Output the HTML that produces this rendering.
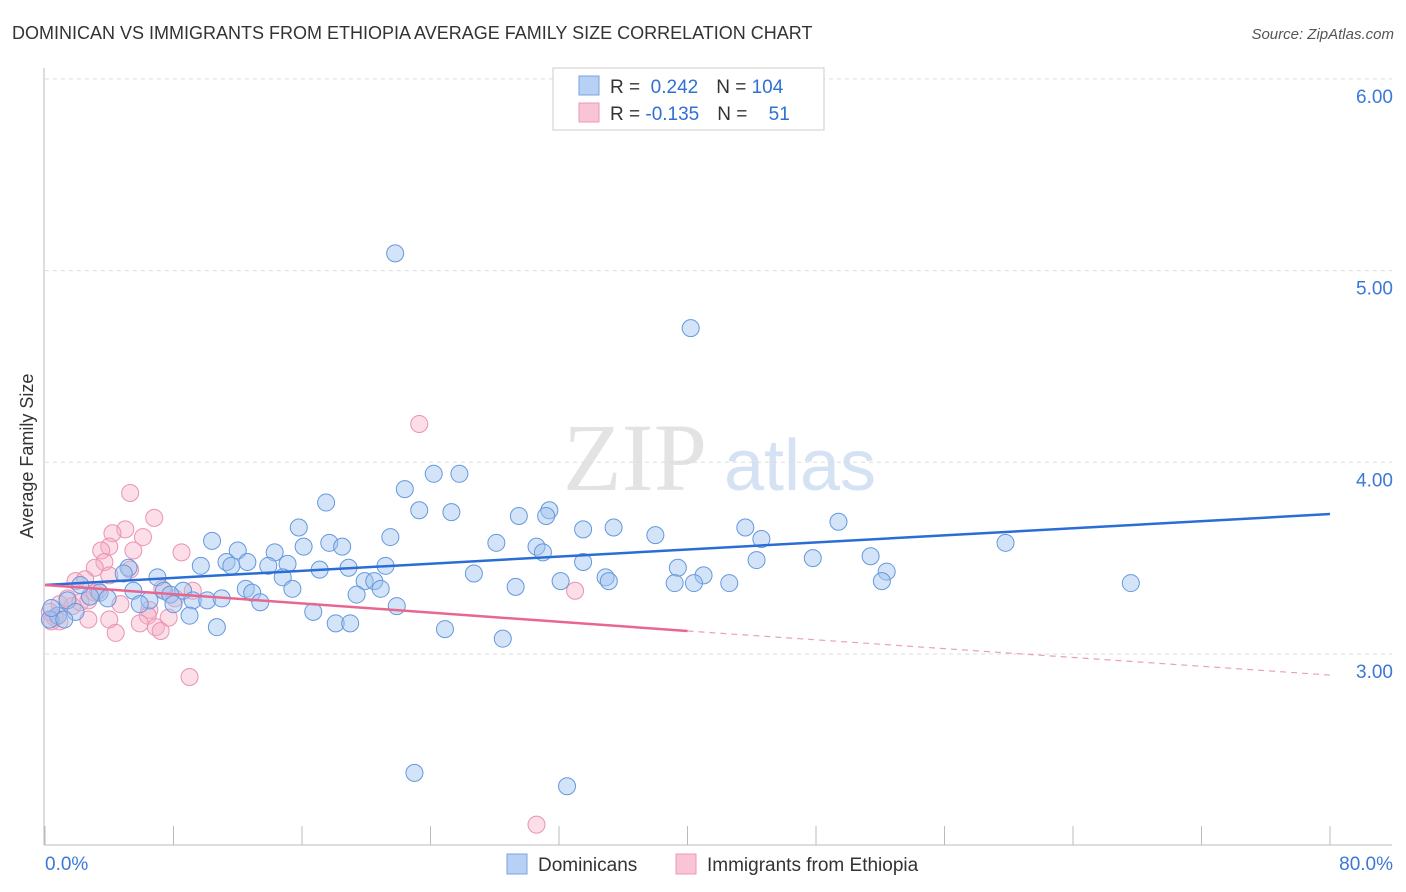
<!DOCTYPE html>
<html><head><meta charset="utf-8"><style>
body{margin:0;background:#fff;font-family:"Liberation Sans",sans-serif}
</style></head><body>
<svg width="1406" height="892" xmlns="http://www.w3.org/2000/svg" style="display:block">
<text x="12" y="39" font-size="18" fill="#333">DOMINICAN VS IMMIGRANTS FROM ETHIOPIA AVERAGE FAMILY SIZE CORRELATION CHART</text>
<text x="1394" y="39" font-size="15" fill="#555" font-style="italic" text-anchor="end">Source: ZipAtlas.com</text>
<g>
<text x="635" y="490" font-size="96" fill="#e3e3e3" font-family="Liberation Serif,serif" text-anchor="middle">ZIP</text>
<text x="800" y="490" font-size="72" fill="#d4e2f4" text-anchor="middle">atlas</text>
</g>
<g id="grid"></g>
<line x1="44" y1="68" x2="44" y2="845" stroke="#bbb"/>
<line x1="44" y1="845" x2="1392" y2="845" stroke="#bbb"/>
<g id="xt"></g>
<g id="yt"></g>
<text transform="translate(33,456) rotate(-90)" font-size="18" fill="#333" text-anchor="middle">Average Family Size</text>
<g id="pink"></g>
<g id="blue"></g>
<g id="lines"></g>
<g>
<rect x="553" y="68" width="271" height="62" fill="#fff" stroke="#ccc"/>
<rect x="579" y="76" width="20" height="19" fill="#b7d0f3" stroke="#7aa3e0"/>
<rect x="579" y="103" width="20" height="19" fill="#f9c4d4" stroke="#eb9ab5"/>
<text x="610" y="93" font-size="19" fill="#333">R = <tspan fill="#2f6fd6">&#160;0.242</tspan><tspan dx="18">N = </tspan><tspan fill="#2f6fd6">104</tspan></text>
<text x="610" y="120" font-size="19" fill="#333">R = <tspan fill="#2f6fd6">-0.135</tspan><tspan dx="18">N = </tspan><tspan fill="#2f6fd6" dx="16">51</tspan></text>
</g>
<g>
<rect x="507" y="854" width="20" height="20" fill="#b7d0f3" stroke="#7aa3e0"/>
<text x="538" y="871" font-size="19" fill="#333">Dominicans</text>
<rect x="676" y="854" width="20" height="20" fill="#f9c4d4" stroke="#eb9ab5"/>
<text x="707" y="871" font-size="19" fill="#333">Immigrants from Ethiopia</text>
</g>
</svg>
<script>
const blueX=[21.8,40.2,24.2,25.8,22.4,17.5,23.3,25.3,31.4,31.2,29.5,49.4,15.8,33.5,35.4,43.6,21.5,38.0,44.6,10.4,17.7,28.1,59.8,16.1,18.5,30.6,12.0,14.3,31.0,47.8,51.4,11.3,12.6,44.3,33.5,9.7,11.6,13.9,15.1,21.2,39.4,5.2,17.1,18.9,52.4,4.9,26.7,41.0,7.0,14.8,19.9,20.5,32.1,34.9,35.1,39.2,40.4,42.6,52.1,67.6,29.3,12.5,15.4,20.9,5.5,7.4,8.6,12.9,19.4,3.4,7.8,3.9,9.2,10.1,11.0,2.8,6.5,5.9,8.0,13.4,1.4,21.9,16.7,9.0,1.9,0.8,0.3,1.2,18.1,19.0,10.7,24.9,28.5,23.0,32.5,0.4,2.2];
const blueY=[5.09,4.70,3.94,3.94,3.86,3.79,3.75,3.74,3.75,3.72,3.72,3.69,3.66,3.65,3.66,3.66,3.61,3.62,3.60,3.59,3.58,3.58,3.58,3.56,3.56,3.56,3.54,3.53,3.53,3.50,3.51,3.48,3.48,3.49,3.48,3.46,3.46,3.46,3.47,3.46,3.45,3.45,3.44,3.45,3.43,3.42,3.42,3.41,3.40,3.40,3.38,3.38,3.38,3.40,3.38,3.37,3.37,3.37,3.38,3.37,3.35,3.34,3.34,3.34,3.33,3.33,3.33,3.32,3.31,3.32,3.31,3.29,3.28,3.28,3.29,3.30,3.28,3.26,3.26,3.27,3.28,3.25,3.22,3.20,3.22,3.20,3.18,3.18,3.16,3.16,3.14,3.13,3.08,2.38,2.31,3.24,3.36];
const pinkX=[23.3,5.3,6.8,5.0,4.2,6.1,4.0,3.5,5.5,8.5,3.7,5.3,3.1,1.9,2.5,4.0,9.2,7.3,33.0,4.7,2.7,3.1,1.7,6.5,0.9,7.7,6.4,4.0,2.7,0.6,0.9,5.9,6.9,7.2,4.4,9.0,30.6,0.3,1.4,3.3,8.1,2.2,0.4];
const pinkY=[4.20,3.84,3.71,3.65,3.63,3.61,3.56,3.54,3.54,3.53,3.48,3.44,3.45,3.38,3.39,3.41,3.33,3.34,3.33,3.26,3.28,3.32,3.25,3.23,3.26,3.19,3.20,3.18,3.18,3.19,3.17,3.16,3.14,3.12,3.11,2.88,2.11,3.22,3.29,3.33,3.29,3.27,3.17];
const blueTrendX=[0,80];const blueTrendY=[3.36,3.73];
const pinkTrendX=[0,40,80];const pinkTrendY=[3.36,3.12,2.89];
const yTicks=[3,4,5,6];const yTickLabels=["3.00","4.00","5.00","6.00"];
const xTickLabels=["0.0%","80.0%"];
const NS="http://www.w3.org/2000/svg";
const sx=v=>45+v*1285/80, sy=v=>654-(v-3)*191.7;
function mk(p,t,a){const e=document.createElementNS(NS,t);for(const k in a)e.setAttribute(k,a[k]);document.getElementById(p).appendChild(e);return e;}
yTicks.forEach((v,i)=>{
 const g=mk('grid','line',{x1:45,x2:1392,y1:sy(v),y2:sy(v),stroke:'#ddd','stroke-dasharray':'4,4'});
 
 
 const t=mk('yt','text',{x:1393,y:sy(v)+24,'font-size':19,fill:'#3b78d8','text-anchor':'end'});t.textContent=yTickLabels[i];
 
 
});
for(let i=0;i<=10;i++){const l=mk('xt','line',{x1:sx(i*8),x2:sx(i*8),y1:826,y2:845,stroke:'#bbb'});
 
 }
[[0,'start',45],[80,'end',1393]].forEach((d,i)=>{const t=mk('xt','text',{x:d[2],y:870,'font-size':19,fill:'#3b78d8','text-anchor':d[1]});t.textContent=xTickLabels[i];
 
 });
pinkX.forEach((x,i)=>{const c=mk('pink','circle',{cx:sx(x),cy:sy(pinkY[i]),r:8.5,fill:'rgba(246,172,196,0.4)',stroke:'#eb92b0','stroke-width':1});
 
 });
blueX.forEach((x,i)=>{const c=mk('blue','circle',{cx:sx(x),cy:sy(blueY[i]),r:8.5,fill:'rgba(160,196,240,0.45)',stroke:'#6598de','stroke-width':1});
 
 });
const bl=mk('lines','line',{x1:sx(blueTrendX[0]),y1:sy(blueTrendY[0]),x2:sx(blueTrendX[1]),y2:sy(blueTrendY[1]),stroke:'#2a6dd6','stroke-width':2.5});


const pl=mk('lines','line',{x1:sx(pinkTrendX[0]),y1:sy(pinkTrendY[0]),x2:sx(pinkTrendX[1]),y2:sy(pinkTrendY[1]),stroke:'#e8668f','stroke-width':2.5});


const pd=mk('lines','line',{x1:sx(pinkTrendX[1]),y1:sy(pinkTrendY[1]),x2:sx(pinkTrendX[2]),y2:sy(pinkTrendY[2]),stroke:'#e8a0b8','stroke-width':1.2,'stroke-dasharray':'6,5'});


</script>
</body></html>
